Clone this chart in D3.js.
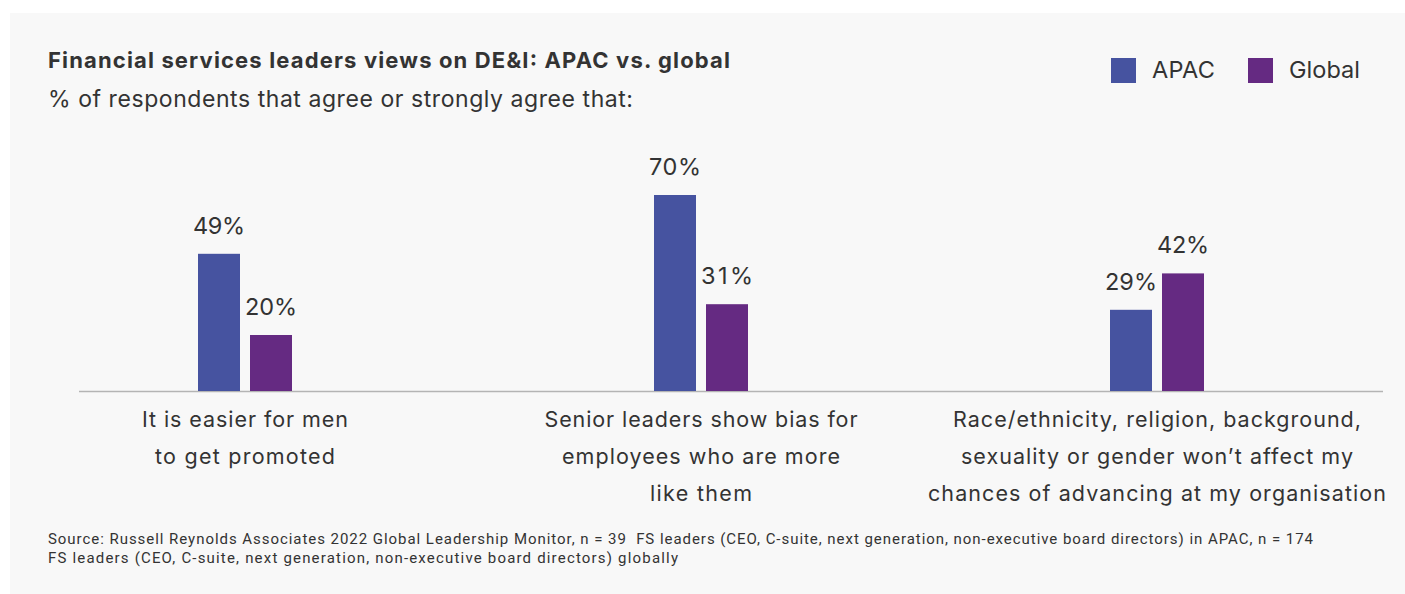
<!DOCTYPE html>
<html>
<head>
<meta charset="utf-8">
<script src="https://cdn.jsdelivr.net/npm/d3@7"></script>
<style>
  html, body { margin: 0; padding: 0; background: #ffffff; }
  svg { display: block; }
  text { font-family: Inter, "Noto Sans", sans-serif; fill: #333333; white-space: pre; }
</style>
</head>
<body>
<svg id="chart" width="1405" height="594"></svg>
<script>
const categories = [
  ["It is easier for men", "to get promoted"],
  ["Senior leaders show bias for", "employees who are more", "like them"],
  ["Race/ethnicity, religion, background,", "sexuality or gender won\u2019t affect my", "chances of advancing at my organisation"]
];
const categoryKeys = ["men", "bias", "race"];
const seriesNames = ["APAC", "Global"];
const apacValues = [49, 70, 29];
const globalValues = [20, 31, 42];
const seriesColors = ["#4653a0", "#652a82"];
const titleText = "Financial services leaders views on DE&I: APAC vs. global";
const subtitleText = "% of respondents that agree or strongly agree that:";
const sourceLines = [
  "Source: Russell Reynolds Associates 2022 Global Leadership Monitor, n = 39  FS leaders (CEO, C-suite, next generation, non-executive board directors) in APAC, n = 174",
  "FS leaders (CEO, C-suite, next generation, non-executive board directors) globally"
];

// rendered widths of text lines (styling only)
const catLineWidths = [[206, 180], [313, 278, 102], [408, 392, 458]];
const sourceWidths = [1265, 630];
const legendWidths = [63, 71];

const svg = d3.select("#chart");
svg.append("rect").attr("x", 10).attr("y", 13).attr("width", 1395).attr("height", 581).attr("fill", "#f8f8f8");

const x0 = d3.scaleBand().domain(categoryKeys).range([17, 1385]);
const x1 = d3.scaleBand().domain(seriesNames).range([-47, 47]).paddingInner(10 / 52).paddingOuter(0);
const baseY = 391;
const y = d3.scaleLinear().domain([0, 100]).range([baseY, baseY - 280]);

svg.append("line").attr("x1", 79).attr("x2", 1383).attr("y1", baseY + 0.5).attr("y2", baseY + 0.5)
  .attr("stroke", "#b4b4b4").attr("stroke-width", 1.5);

const data = categoryKeys.map((k, i) => ({ key: k, values: [
  { s: "APAC", v: apacValues[i] }, { s: "Global", v: globalValues[i] }
]}));

const g = svg.selectAll("g.grp").data(data).join("g").attr("class", "grp")
  .attr("transform", d => `translate(${x0(d.key) + x0.bandwidth() / 2},0)`);

g.selectAll("rect").data(d => d.values).join("rect")
  .attr("x", d => x1(d.s)).attr("width", x1.bandwidth())
  .attr("y", d => y(d.v)).attr("height", d => baseY - y(d.v))
  .attr("fill", (d, i) => seriesColors[i]);

g.selectAll("text.val").data(d => d.values).join("text").attr("class", "val")
  .attr("x", d => x1(d.s) + x1.bandwidth() / 2).attr("y", d => y(d.v) - 20)
  .attr("text-anchor", "middle").attr("font-size", 23.5)
  .attr("textLength", 52).attr("lengthAdjust", "spacing")
  .text(d => d.v + "%");

svg.selectAll("text.cat").data(categoryKeys).join("text").attr("class", "cat")
  .attr("x", d => x0(d) + x0.bandwidth() / 2).attr("y", 427)
  .attr("text-anchor", "middle").attr("font-size", 21.5)
  .each(function(d, i) {
    const cx = x0(d) + x0.bandwidth() / 2;
    d3.select(this).selectAll("tspan").data(categories[i]).join("tspan")
      .attr("x", cx).attr("dy", (t, j) => j === 0 ? 0 : 37)
      .attr("textLength", (t, j) => catLineWidths[i][j]).attr("lengthAdjust", "spacing")
      .text(t => t);
  });

svg.append("text").attr("x", 48).attr("y", 68).attr("font-size", 22).attr("font-weight", 700)
  .attr("fill", "#222").attr("textLength", 682).attr("lengthAdjust", "spacing").text(titleText);
svg.append("text").attr("x", 48).attr("y", 107).attr("font-size", 23)
  .attr("textLength", 585).attr("lengthAdjust", "spacing").text(subtitleText);

const leg = svg.selectAll("g.leg").data(seriesNames).join("g").attr("class", "leg")
  .attr("transform", (d, i) => `translate(${[1111, 1248][i]},58)`);
leg.append("rect").attr("width", 25).attr("height", 25).attr("fill", (d, i) => seriesColors[i]);
leg.append("text").attr("x", 41).attr("y", 20).attr("font-size", 23.5)
  .attr("textLength", (d, i) => legendWidths[i]).attr("lengthAdjust", "spacing").text(d => d);

svg.selectAll("text.src").data(sourceLines).join("text").attr("class", "src")
  .attr("x", 48).attr("y", (d, i) => 544 + i * 19).attr("font-size", 15)
  .attr("textLength", (d, i) => sourceWidths[i]).attr("lengthAdjust", "spacing")
  .style("font-family", "Roboto, sans-serif").text(d => d);
</script>
</body>
</html>
